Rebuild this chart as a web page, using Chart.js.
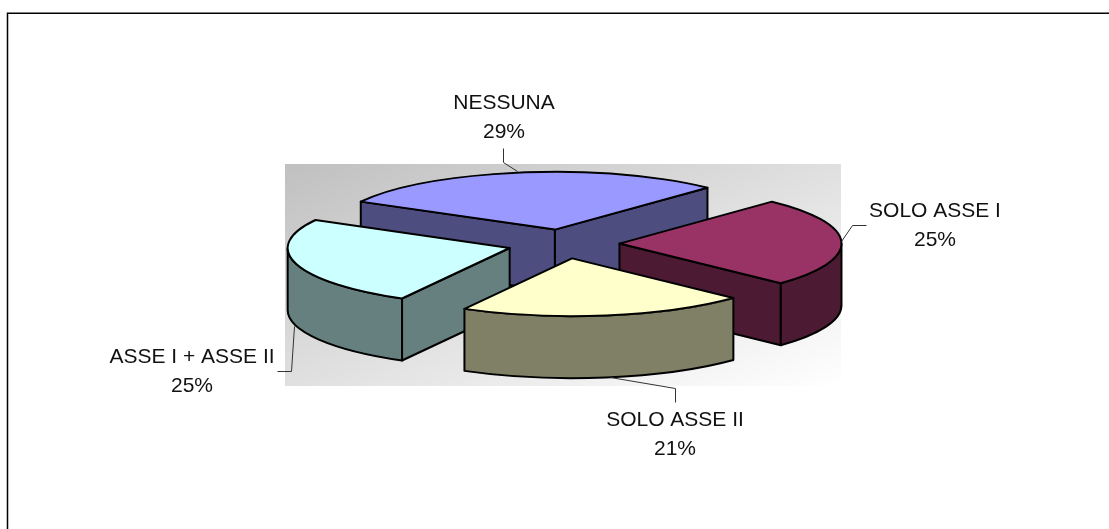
<!DOCTYPE html>
<html>
<head>
<meta charset="utf-8">
<style>
  html, body { margin: 0; background: #fff; }
  canvas { display: block; }
</style>
<script src="https://cdn.jsdelivr.net/npm/chart.js@4"></script>
</head>
<body>
<canvas id="pie3d" width="1109" height="529"></canvas>
<script>
const categories = ['NESSUNA', 'SOLO ASSE I', 'SOLO ASSE II', 'ASSE I + ASSE II'];
const shares = [29, 25, 21, 25];
const percentLabels = ['29%', '25%', '21%', '25%'];

const topColors = ['#9999FF', '#993366', '#FFFFCC', '#CCFFFF'];
const wallColors = ['#4D4D80', '#4D1A33', '#808066', '#668080'];

const SQUASH = 0.26;   // ellipse height / width of the tilted pie
const DEPTH = 62;      // extrusion height in px
const EXPLODE = 56;    // how far slices are pulled out
const LINE_W = 2;

// back to front, so nearer walls cover farther ones
const wallOrder = [0, 1, 3, 2];

const labelStyle = '21px "Liberation Sans", Arial, sans-serif';
const labelBoxes = [
  { x: 504, y1: 109, y2: 137.5, leader: [[503, 148], [503, 162], [517, 171]] },
  { x: 935, y1: 216.5, y2: 245.5, leader: [[866, 225], [852, 225], [841, 241]] },
  { x: 675, y1: 426, y2: 454.5, leader: [[675, 402], [675, 388], [610, 377]] },
  { x: 192, y1: 362.5, y2: 391.5, leader: [[277, 371], [291, 371], [294, 326]] }
];

// Slice centre after the explode shift, in screen coordinates
function sliceCentre(arc) {
  const mid = (arc.startAngle + arc.endAngle) / 2;
  return {
    x: arc.x + Math.cos(mid) * EXPLODE,
    y: arc.y + Math.sin(mid) * EXPLODE * SQUASH
  };
}

function drawWalls(ctx, arc, color) {
  const c = sliceCentre(arc);
  const r = arc.outerRadius;
  const rimX = a => c.x + Math.cos(a) * r;
  const rimY = a => c.y + Math.sin(a) * r * SQUASH;

  const paint = () => {
    ctx.closePath();
    ctx.fillStyle = color;
    ctx.fill();
    ctx.stroke();
  };
  const radialWall = (a) => {
    ctx.beginPath();
    ctx.moveTo(c.x, c.y);
    ctx.lineTo(rimX(a), rimY(a));
    ctx.lineTo(rimX(a), rimY(a) + DEPTH);
    ctx.lineTo(c.x, c.y + DEPTH);
    paint();
  };

  // only faces turned towards the viewer
  if (Math.cos(arc.startAngle) < 0) radialWall(arc.startAngle);
  if (Math.cos(arc.endAngle) > 0) radialWall(arc.endAngle);

  const a0 = Math.max(arc.startAngle, 0);
  const a1 = Math.min(arc.endAngle, Math.PI);
  if (a1 > a0) {
    ctx.beginPath();
    ctx.ellipse(c.x, c.y, r, r * SQUASH, 0, a0, a1);
    ctx.ellipse(c.x, c.y + DEPTH, r, r * SQUASH, 0, a1, a0, true);
    paint();
  }
}

const pie3dPlugin = {
  id: 'pie3d',
  beforeDraw(chart) {
    const ctx = chart.ctx;
    ctx.save();
    // outer frame, right and bottom sides fall outside the picture
    ctx.strokeStyle = '#000';
    ctx.lineWidth = 1.5;
    ctx.beginPath();
    ctx.moveTo(7.5, 529);
    ctx.lineTo(7.5, 13.2);
    ctx.lineTo(1109, 13.2);
    ctx.stroke();

    // plot backdrop: grey to white, corner to corner
    const left = 285, top = 164, w = 556, h = 222;
    const cx = left + w / 2, cy = top + h / 2;
    const len = Math.hypot(w, h);
    const half = w * h / len;
    const dx = h / len * half, dy = w / len * half;
    const grad = ctx.createLinearGradient(cx - dx, cy - dy, cx + dx, cy + dy);
    grad.addColorStop(0, '#C0C0C0');
    grad.addColorStop(1, '#FFFFFF');
    ctx.fillStyle = grad;
    ctx.fillRect(left, top, w, h);
    ctx.restore();
  },
  beforeDatasetsDraw(chart) {
    const ctx = chart.ctx;
    const arcs = chart.getDatasetMeta(0).data;
    ctx.save();
    ctx.strokeStyle = '#000';
    ctx.lineWidth = LINE_W;
    ctx.lineJoin = 'round';
    wallOrder.forEach(i => drawWalls(ctx, arcs[i], wallColors[i]));
    ctx.restore();

    // flatten the pie that Chart.js draws next
    const cy = arcs[0].y;
    ctx.save();
    ctx.translate(0, cy);
    ctx.scale(1, SQUASH);
    ctx.translate(0, -cy);
  },
  afterDatasetsDraw(chart) {
    const ctx = chart.ctx;
    ctx.restore();

    // outlines done here so the line keeps its width on the flattened pie
    const arcs = chart.getDatasetMeta(0).data;
    ctx.save();
    ctx.strokeStyle = '#000';
    ctx.lineWidth = LINE_W;
    ctx.lineJoin = 'round';
    arcs.forEach(arc => {
      const c = sliceCentre(arc);
      const r = arc.outerRadius;
      ctx.beginPath();
      ctx.moveTo(c.x, c.y);
      ctx.ellipse(c.x, c.y, r, r * SQUASH, 0, arc.startAngle, arc.endAngle);
      ctx.closePath();
      ctx.stroke();
    });
    ctx.restore();

    // leader lines and labels
    ctx.save();
    ctx.font = labelStyle;
    ctx.textAlign = 'center';
    ctx.fillStyle = '#111';
    ctx.strokeStyle = '#333';
    ctx.lineWidth = 1;
    categories.forEach((name, i) => {
      const box = labelBoxes[i];
      ctx.beginPath();
      box.leader.forEach(([x, y], k) => (k ? ctx.lineTo(x + 0.5, y + 0.5) : ctx.moveTo(x + 0.5, y + 0.5)));
      ctx.stroke();
      ctx.fillText(name, box.x, box.y1);
      ctx.fillText(percentLabels[i], box.x, box.y2);
    });
    ctx.restore();
  }
};

new Chart(document.getElementById('pie3d'), {
  type: 'pie',
  data: {
    labels: categories,
    datasets: [{
      data: shares,
      backgroundColor: topColors,
      borderWidth: 0,
      offset: EXPLODE * 4,   // ArcElement moves a slice by offset / 4
      radius: 222
    }]
  },
  options: {
    responsive: false,
    animation: false,
    rotation: -61,
    // puts the pie centre at x 563.5, y 244
    layout: { padding: { left: 18, right: 0, top: 0, bottom: 41 } },
    events: [],
    plugins: { legend: { display: false }, tooltip: { enabled: false }, title: { display: false } }
  },
  plugins: [pie3dPlugin]
});
</script>
</body>
</html>
